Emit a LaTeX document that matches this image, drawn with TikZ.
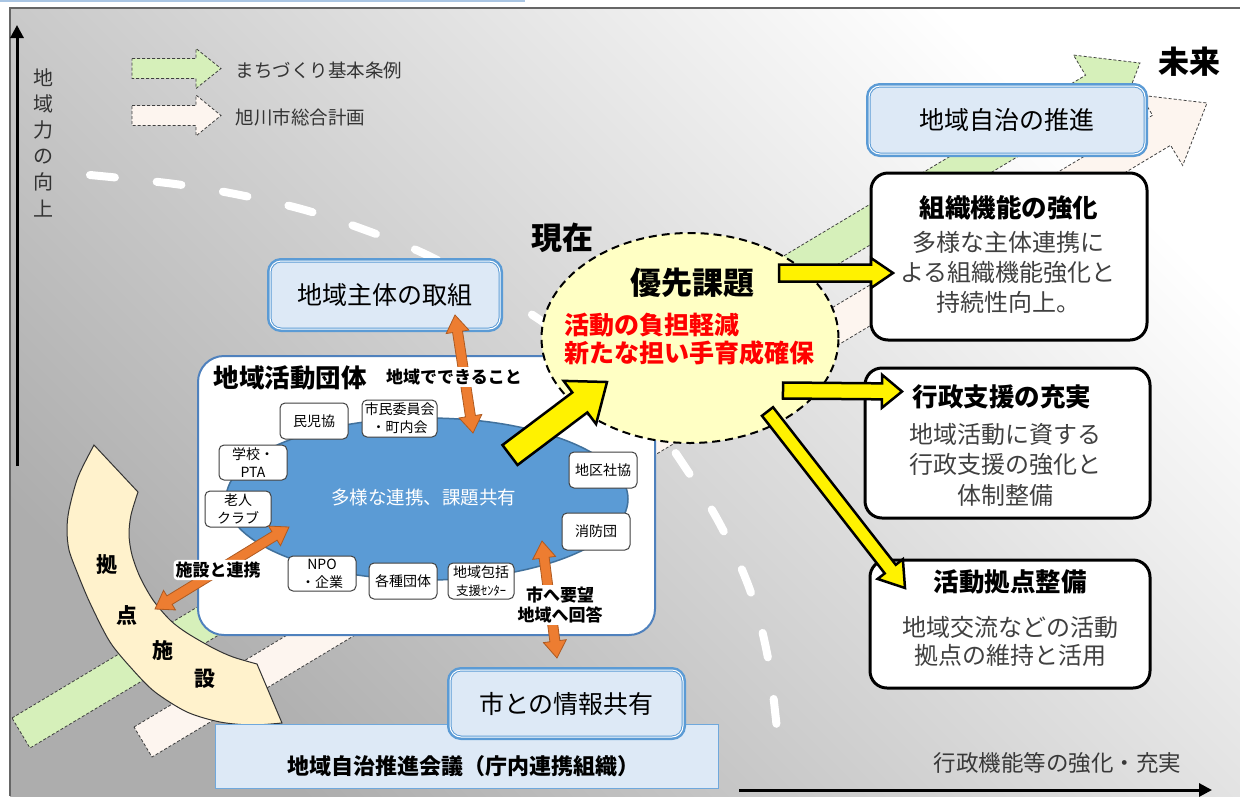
\documentclass[tikz,border=0pt]{standalone}
\usepackage{fontspec}
\setmainfont{Noto Sans CJK JP}
\usetikzlibrary{calc,shapes.geometric,arrows.meta}
\definecolor{bandgreen}{HTML}{D6F0BA}
\definecolor{bandpink}{HTML}{FDF5EF}
\definecolor{boxblue}{HTML}{5B9BD5}
\definecolor{boxfill}{HTML}{DDE9F6}
\definecolor{ellblue}{HTML}{5B9BD5}
\definecolor{ellborder}{HTML}{41719C}
\definecolor{frameblue}{HTML}{4F81BD}
\definecolor{cream}{HTML}{FFF2CC}
\definecolor{orangef}{HTML}{ED7D31}
\definecolor{orangeb}{HTML}{AE5A21}
\definecolor{lightyellow}{HTML}{FFFFC4}
\definecolor{councilb}{HTML}{6FA8DC}
\definecolor{topblue}{HTML}{A9C5E3}
\newcommand\blockarrow[6]{%
  \coordinate (bah) at ($(#3)!#6!(#2)$);
  \draw[#1] ($(#2)!#4!90:(#3)$) -- ($(bah)!#4!90:(#3)$) -- ($(bah)!#5!90:(#3)$) -- (#3)
    -- ($(bah)!#5!-90:(#3)$) -- ($(bah)!#4!-90:(#3)$) -- ($(#2)!#4!-90:(#3)$) -- cycle;}
\newcommand\dblarrow[6]{%
  \coordinate (dah) at ($(#2)!#6!(#3)$);
  \coordinate (dbh) at ($(#3)!#6!(#2)$);
  \draw[#1] (#2) -- ($(dah)!#5!90:(#3)$) -- ($(dah)!#4!90:(#3)$) -- ($(dbh)!#4!90:(#3)$)
    -- ($(dbh)!#5!90:(#3)$) -- (#3) -- ($(dbh)!#5!-90:(#3)$) -- ($(dbh)!#4!-90:(#3)$)
    -- ($(dah)!#4!-90:(#3)$) -- ($(dah)!#5!-90:(#3)$) -- cycle;}
\begin{document}
\begin{tikzpicture}[x=1pt,y=-1pt,
  band/.style={draw=black!75, dash pattern=on 3pt off 2pt, line width=0.8pt, line join=miter},
  road/.style={draw=white, line width=8pt, line cap=round, dash pattern=on 25pt off 42pt},
  axisline/.style={line width=3pt, -{Triangle[length=13pt,width=13pt]}},
  bluebox/.style={rounded corners=11pt, fill=boxfill, preaction={draw=boxblue, line width=6pt},
     draw=boxblue, double=white, line width=1pt, double distance=1pt, inner sep=0pt,
     font=\fontsize{25}{30}\selectfont},
  sbox/.style={draw=black!75, line width=1pt, fill=white, rounded corners=5pt, minimum width=68pt,
     minimum height=36pt, inner sep=0pt, align=center, font=\fontsize{14}{18}\selectfont},
  bigbox/.style={draw=frameblue, line width=2pt, fill=white, rounded corners=26pt, inner sep=0pt},
  rbox/.style={draw=black, line width=3pt, fill=white, rounded corners=17pt, inner sep=0pt},
  blueell/.style={ellipse, draw=ellborder, line width=1.5pt, fill=ellblue, inner sep=0pt},
  yelell/.style={ellipse, draw=black, line width=2pt, dash pattern=on 8pt off 5pt, fill=lightyellow, inner sep=0pt},
  oarr/.style={fill=orangef, draw=orangeb, line width=0.8pt, line join=miter},
  yarr/.style={fill=yellow, draw=black, line width=2.5pt, line join=miter},
  arcshape/.style={fill=cream, draw=black!80, line width=1pt},
  council/.style={fill=boxfill, draw=councilb, line width=1pt, inner sep=0pt},
  lab/.style={fill=white, inner sep=2pt, align=center, font=\fontsize{17}{20}\selectfont\bfseries},
  ttl/.style={font=\fontsize{25.5}{30}\selectfont\bfseries},
  body/.style={align=center, text=black!75, font=\fontsize{24}{30}\selectfont}
]
\useasboundingbox (0,0) rectangle (1240,796);
% background
\shade[top color=white, bottom color=black!32, shading angle=-45] (10,8) rectangle (1240,796);
\draw[topblue, line width=2pt] (0,1.2) -- (525,1.2);
\draw[black!60, line width=1.2pt] (10,796) -- (10,8) -- (1240,8);

% broad background arrows
\coordinate (gtail) at (21,733); \coordinate (ghead) at (1140,63);
\blockarrow{band, fill=bandgreen}{gtail}{ghead}{17.5pt}{41pt}{53pt}
\coordinate (ptail) at (143,742); \coordinate (phead) at (1207,103);
\blockarrow{band, fill=bandpink}{ptail}{phead}{17.5pt}{41pt}{53pt}

% white dashed curve
\draw[road] plot[smooth, tension=0.6] coordinates {(90,175) (175,184) (240,195) (305,210) (368,231) (425,254) (483,285) (540,320) (595,362) (645,412) (687,470) (722,528) (750,590) (767,653) (776,720) (777,742)};

% axes
\coordinate (vbot) at (17,466); \coordinate (vtop) at (17,25);
\draw[axisline] (vbot) -- (vtop);
\coordinate (hleft) at (739,790); \coordinate (hright) at (1212,790);
\draw[axisline] (hleft) -- (hright);
\node[align=center, text=black!80, font=\fontsize{20}{26.2}\selectfont] (vlabel) at (43,142.5) {地\\域\\力\\の\\向\\上};
\node[text=black!78, font=\fontsize{22.5}{26}\selectfont] (hlabel) at (1057.5,763) {行政機能等の強化・充実};

% legend
\coordinate (lg1a) at (132,68.5); \coordinate (lg1b) at (221,68.5);
\blockarrow{band, fill=bandgreen}{lg1a}{lg1b}{10pt}{20pt}{25pt}
\coordinate (lg2a) at (132,115.5); \coordinate (lg2b) at (221,115.5);
\blockarrow{band, fill=bandpink}{lg2a}{lg2b}{10pt}{20.5pt}{25pt}
\node[anchor=west, text=black!80, font=\fontsize{18.5}{22}\selectfont] (lgt1) at (232,70) {まちづくり基本条例};
\node[anchor=west, text=black!80, font=\fontsize{18.5}{22}\selectfont] (lgt2) at (232,117) {旭川市総合計画};

% big white box
\node[bigbox, minimum width=457pt, minimum height=279pt] (dantai) at (426.5,495.5) {};
\node[anchor=west, font=\fontsize{25.5}{30}\selectfont\bfseries] (dantaiT) at (210,378) {地域活動団体};
\node[blueell, minimum width=402pt, minimum height=162pt] (renkei) at (427,499) {};
\node[text=white, font=\fontsize{18.5}{22}\selectfont] (renkeiT) at (423.5,497) {多様な連携、課題共有};
\node[sbox] (minji) at (314,421) {民児協};
\node[sbox, minimum width=75pt, minimum height=37pt] (shimin) at (399.5,418.5) {市民委員会\\・町内会};
\node[sbox, minimum height=35pt] (gakko) at (253,462.5) {学校・\\PTA};
\node[sbox, minimum width=66pt] (rojin) at (238,509) {老人\\クラブ};
\node[sbox, minimum height=35pt] (npo) at (322,573.5) {NPO\\・企業};
\node[sbox] (kakushu) at (403,581) {各種団体};
\node[sbox, minimum width=66pt] (hokatsu) at (481,581) {地域包括\\{\fontsize{12.5}{14}\selectfont 支援ｾﾝﾀｰ}};
\node[sbox] (chiku) at (603,470) {地区社協};
\node[sbox, minimum height=37pt] (shobo) at (596,531.5) {消防団};

% base facility arc
\draw[arcshape] plot[smooth] coordinates {(94,445) (78,477) (69,510) (67,530) (69,550) (77,572) (90,603) (110,642) (133,670) (155,692) (187,712) (220,722) (252,725) (282,723)}
  -- plot[smooth] coordinates {(257,664) (233,657) (213,648) (187,633) (170,620) (153,600) (140,577) (132,555) (129,535) (131,515) (138,492)} -- cycle;
\node[font=\fontsize{21}{24}\selectfont\bfseries] (k1) at (107,565) {拠};
\node[font=\fontsize{21}{24}\selectfont\bfseries] (k2) at (127,615) {点};
\node[font=\fontsize{21}{24}\selectfont\bfseries] (k3) at (163,651) {施};
\node[font=\fontsize{21}{24}\selectfont\bfseries] (k4) at (205,679) {設};

% council and blue boxes
\node[council, minimum width=503pt, minimum height=64pt] (kaigi) at (466.5,756) {};
\node[font=\fontsize{22}{26}\selectfont\bfseries] (kaigiT) at (463.5,766) {地域自治推進会議（庁内連携組織）};
\node[bluebox, minimum width=233pt, minimum height=67pt] (joho) at (566.5,703.5) {市との情報共有};
\node[bluebox, minimum width=230pt, minimum height=68pt] (torikumi) at (385,295) {地域主体の取組};
\node[bluebox, minimum width=276pt, minimum height=68pt] (jichi) at (1007,120) {地域自治の推進};

% priority ellipse
\node[yelell, minimum width=297pt, minimum height=210pt] (yusen) at (690,338) {};
\node[font=\fontsize{31}{36}\selectfont\bfseries] (yusenT) at (692,283) {優先課題};
\node[anchor=west, align=left, text=red, font=\fontsize{25}{28}\selectfont\bfseries] (yusenR) at (561,339) {活動の負担軽減\\新たな担い手育成確保};
\node[font=\fontsize{31}{36}\selectfont\bfseries] (genzai) at (562,238) {現在};
\node[font=\fontsize{31}{36}\selectfont\bfseries] (mirai) at (1189,62) {未来};

% orange double arrows
\coordinate (o1a) at (455,315); \coordinate (o1b) at (473,433);
\dblarrow{oarr}{o1a}{o1b}{5pt}{11.5pt}{17pt}
\coordinate (o2a) at (289,527); \coordinate (o2b) at (155,609);
\dblarrow{oarr}{o2a}{o2b}{5pt}{11.5pt}{17pt}
\coordinate (o3a) at (542,541); \coordinate (o3b) at (557,658);
\dblarrow{oarr}{o3a}{o3b}{5pt}{11.5pt}{17pt}
\node[lab] (labA) at (454,377) {地域でできること};
\node[lab, rounded corners=4pt] (labB) at (218,570) {施設と連携};
\node[lab] (labC) at (560,605) {市へ要望\\地域へ回答};

% right boxes
\node[rbox, minimum width=276pt, minimum height=167pt] (b1) at (1009,256.5) {};
\node[ttl] (b1t) at (1009,208) {組織機能の強化};
\node[body] (b1b) at (1008,272) {多様な主体連携に\\よる組織機能強化と\\持続性向上。};
\node[rbox, minimum width=285pt, minimum height=150pt] (b2) at (1007.5,443) {};
\node[ttl] (b2t) at (1002,397) {行政支援の充実};
\node[body, font=\fontsize{24}{30.5}\selectfont] (b2b) at (1005,464.5) {地域活動に資する\\行政支援の強化と\\体制整備};
\node[rbox, minimum width=280pt, minimum height=128pt] (b3) at (1010,624) {};
\node[ttl] (b3t) at (1010,582) {活動拠点整備};
\node[body, font=\fontsize{24}{28}\selectfont] (b3b) at (1010,641) {地域交流などの活動\\拠点の維持と活用};

% yellow arrows
\coordinate (y0a) at (510,455); \coordinate (y0b) at (607,382);
\blockarrow{yarr}{y0a}{y0b}{12.5pt}{27pt}{34pt}
\coordinate (y1a) at (779,273); \coordinate (y1b) at (893,273);
\blockarrow{yarr}{y1a}{y1b}{8.5pt}{15pt}{22pt}
\coordinate (y2a) at (783,390.5); \coordinate (y2b) at (902,391.5);
\blockarrow{yarr}{y2a}{y2b}{8pt}{16.5pt}{20pt}
\coordinate (y3a) at (767.5,411.5); \coordinate (y3b) at (905,588);
\blockarrow{yarr}{y3a}{y3b}{7pt}{16pt}{24pt}
\end{tikzpicture}
\end{document}
